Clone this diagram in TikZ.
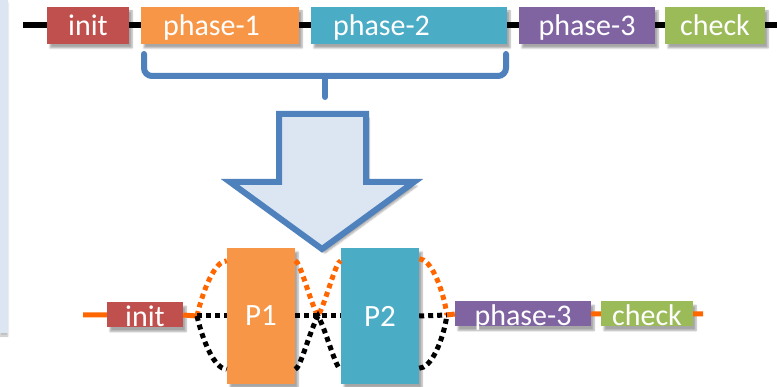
\documentclass[tikz,border=0pt]{standalone}
\usepackage{fontspec}
\newfontfamily\stagefont{Carlito}
\usetikzlibrary{calc,shadows.blur}

\definecolor{initred}{HTML}{C0504D}
\definecolor{phaseorange}{HTML}{F79646}
\definecolor{phaseteal}{HTML}{4BACC6}
\definecolor{phasepurple}{HTML}{8064A2}
\definecolor{checkgreen}{HTML}{9BBB59}
\definecolor{bracketblue}{HTML}{4F81BD}
\definecolor{paleblue}{HTML}{DCE6F2}
\definecolor{wireorange}{HTML}{FF6600}

\begin{document}
\begin{tikzpicture}[
      x=1pt, y=-1pt,
      every node/.style={rectangle, inner sep=0pt, text=white},
      soft shadow/.style={blur shadow={shadow xshift=3pt, shadow yshift=-4pt,
          shadow blur steps=6, shadow opacity=35}},
      stage/.style={minimum height=37pt, text height=21pt, text depth=0pt,
          font=\stagefont\fontsize{30}{30}\selectfont, soft shadow},
      wide stage/.style={stage, inner xsep=22pt, align=left},
      low stage/.style={stage, minimum height=25pt, text height=24pt},
      block/.style={minimum width=#1, minimum height=136pt,
          font=\stagefont\fontsize{31}{31}\selectfont, soft shadow},
      rail/.style={line width=6pt},
      wire/.style={line width=5pt, draw=wireorange},
      dots/.style={line width=5pt, dash pattern=on 5pt off 4pt}
    ]
    \useasboundingbox (0,0) rectangle (777,387);

    % side panel
    \fill[paleblue, blur shadow={shadow xshift=0pt, shadow yshift=-3pt,
        shadow opacity=25}] (0,0) rectangle (8,333);

    % sequential run
    \node[stage, fill=initred, minimum width=82pt] (init) at (88,25.5) {init};
    \node[wide stage, fill=phaseorange, text width=114pt] (ph1) at (220,25.5) {phase-1};
    \node[wide stage, fill=phaseteal, text width=152pt] (ph2) at (409,25.5) {phase-2};
    \node[stage, fill=phasepurple, minimum width=136pt] (ph3) at (587,25.5) {phase-3};
    \node[stage, fill=checkgreen, minimum width=100pt] (chk) at (715,25.5) {check};

    \coordinate (railL) at (23,25.5);
    \coordinate (railR) at (777,25.5);
    \draw[rail] (railL) -- (init.west) (init.east) -- (ph1.west)
      (ph1.east) -- (ph2.west) (ph2.east) -- (ph3.west)
      (ph3.east) -- (chk.west) (chk.east) -- (railR);

    % brace under phase-1 and phase-2
    \draw[bracketblue, line width=6pt, line cap=round, rounded corners=8pt]
      (144,54) |- (506,76) -- (506,54);
    \draw[bracketblue, line width=6pt, line cap=round] (325,76) -- (325,97);

    % big arrow
    \draw[bracketblue, fill=paleblue, line width=6pt, soft shadow]
      (279,114) -- (366,114) -- (366,182) -- (414,182) -- (322,249)
      -- (230,182) -- (279,182) -- cycle;

    % parallel run
    \node[low stage, fill=initred, minimum width=76pt] (init2) at (145,315) {init};
    \node[block=68pt, fill=phaseorange] (p1) at (261,316) {P1};
    \node[block=78pt, fill=phaseteal] (p2) at (380,316) {P2};
    \node[low stage, fill=phasepurple, minimum width=136pt] (ph3b) at (523,314) {phase-3};
    \node[low stage, fill=checkgreen, minimum width=92pt] (chkb) at (647,314) {check};

    \coordinate (wireL) at (83,315);
    \coordinate (wireR) at (703,314);
    \coordinate (jl) at (197,316);
    \coordinate (jm) at (318,316);
    \coordinate (jr) at (447,315);
    \coordinate (p1tl) at ($(p1.north west)+(0,13)$);
    \coordinate (p1bl) at ($(p1.south west)+(0,-15)$);
    \coordinate (p1tr) at ($(p1.north east)+(0,13)$);
    \coordinate (p1br) at ($(p1.south east)+(0,-15)$);
    \coordinate (p2tl) at ($(p2.north west)+(0,13)$);
    \coordinate (p2bl) at ($(p2.south west)+(0,-15)$);
    \coordinate (p2tr) at ($(p2.north east)+(0,11)$);
    \coordinate (p2br) at ($(p2.south east)+(0,-16)$);

    \draw[wire] (wireL) -- (init2.west) (init2.east) -- (jl);
    \draw[wire, dots] (jl) .. controls +(6,-26) and +(-12,0) .. (p1tl);
    \draw[dots] (jl) -- (p1.west);
    \draw[dots] (jl) .. controls +(6,26) and +(-12,0) .. (p1bl);

    \draw[wire, dots] (p1tr) .. controls +(5,0) and +(-8,-14) .. (jm)
      .. controls +(8,-14) and +(-5,0) .. (p2tl);
    \draw[dots] (p1br) .. controls +(5,0) and +(-8,14) .. (jm)
      .. controls +(8,14) and +(-5,0) .. (p2bl);
    \draw[dots] (p1.east) -- (p2.west);

    \draw[wire, dots] (p2tr) .. controls +(12,0) and +(-4,-26) .. (jr);
    \draw[dots] (p2.east) -- (jr);
    \draw[dots] (p2br) .. controls +(12,0) and +(-4,26) .. (jr);
    \draw[wire] (jr) -- (ph3b.west) (ph3b.east) -- (chkb.west) (chkb.east) -- (wireR);
\end{tikzpicture}
\end{document}
